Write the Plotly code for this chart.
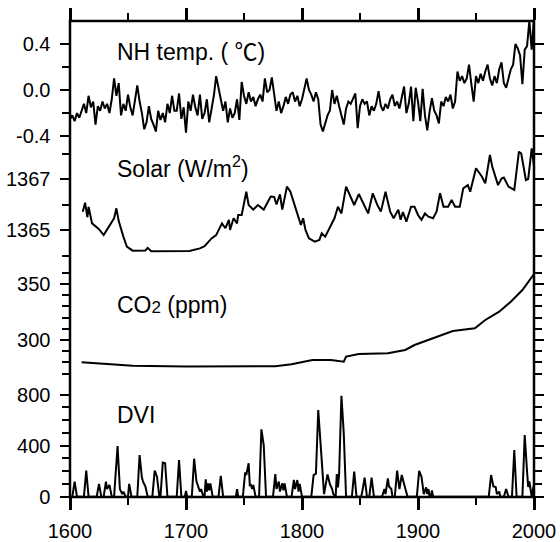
import plotly.graph_objects as go

# ---------------- data ----------------
temp_years = list(range(1600, 2001, 2))
temp_vals = [
    -0.25, -0.22, -0.27, -0.20, -0.24, -0.18,
    -0.12, -0.20, -0.05, -0.15, -0.10,
    -0.30, -0.14, -0.18, -0.10, -0.16,
    -0.12, -0.20, -0.08, 0.10, -0.05,
    0.06, -0.22, -0.12, -0.18, -0.04,
    -0.15, -0.22, -0.08, 0.04, -0.10,
    -0.20, -0.34, -0.28, -0.14, -0.25,
    -0.30, -0.36, -0.18, -0.26, -0.20,
    -0.28, -0.12, -0.20, -0.05, -0.18,
    -0.18, -0.03, -0.25, -0.15, -0.37,
    -0.10, -0.18, -0.04, -0.15, -0.22,
    -0.04, -0.25, -0.20, -0.08, -0.28,
    -0.18, -0.05, 0.12, 0.02, -0.10,
    -0.18, -0.10, -0.28, -0.16, -0.24,
    -0.20, -0.08, -0.26, 0.07, -0.05,
    -0.12, -0.02, -0.10, -0.06, -0.14,
    -0.08, -0.04, -0.10, 0.10, -0.02,
    0.00, 0.11, -0.05, -0.18, -0.10,
    -0.20, -0.14, -0.06, -0.12, -0.04,
    -0.02, -0.10, -0.05, -0.14, -0.08,
    0.00, 0.10, 0.00, -0.04, -0.10,
    -0.02, -0.08, -0.30, -0.36, -0.28,
    -0.22, -0.18, 0.00, -0.12, -0.05,
    -0.14, -0.22, -0.30, -0.16, -0.10,
    -0.12, -0.08, -0.03, -0.33, -0.14,
    -0.08, -0.12, -0.10, -0.22, -0.14,
    -0.18, -0.12, -0.01, -0.14, -0.18,
    -0.12, -0.16, -0.08, -0.04, -0.14,
    -0.10, -0.16, -0.06, 0.03, -0.20,
    -0.12, 0.03, -0.27, 0.02, -0.10,
    -0.27, 0.01, -0.22, -0.35, -0.19,
    -0.07, -0.18, -0.22, -0.29, -0.10,
    -0.14, -0.06, -0.10, -0.04, -0.16,
    -0.10, 0.16, 0.08, 0.12, 0.06,
    0.10, 0.22, 0.05, -0.10, 0.12,
    0.06, 0.14, 0.08, 0.16, 0.22,
    0.10, 0.04, 0.12, 0.06, 0.18,
    0.24, 0.06, 0.02, 0.10, 0.18,
    0.22, 0.40, 0.36, 0.30, 0.05,
    0.35, 0.38, 0.60, 0.35, 0.62,
]

solar_years = [1611, 1613, 1615, 1616, 1619, 1622, 1625, 1629, 1631, 1635, 1638, 1640,
               1642, 1646, 1649, 1654, 1665, 1667, 1670, 1703, 1712, 1716, 1722, 1726,
               1729, 1731, 1734, 1737, 1738, 1741, 1744, 1745, 1748, 1752, 1754, 1758,
               1762, 1767, 1773, 1776, 1778, 1781, 1783, 1787, 1790, 1793, 1796, 1799,
               1801, 1803, 1806, 1811, 1815, 1817, 1820, 1823, 1828, 1831, 1834, 1838,
               1841, 1845, 1849, 1853, 1857, 1861, 1865, 1868, 1872, 1876, 1879, 1883,
               1885, 1887, 1890, 1894, 1897, 1900, 1903, 1906, 1909, 1913, 1916, 1919,
               1922, 1926, 1929, 1932, 1936, 1939, 1943, 1945, 1950, 1955, 1958, 1962,
               1964, 1969, 1972, 1974, 1978, 1983, 1987, 1989, 1993, 1995, 1998, 2000]
solar_vals = [1365.72, 1366.07, 1365.50, 1365.91, 1365.26, 1365.15, 1365.03, 1364.80,
              1364.95, 1365.20, 1365.46, 1365.85, 1365.35, 1364.74, 1364.35, 1364.19,
              1364.20, 1364.30, 1364.17, 1364.18, 1364.28, 1364.37, 1364.67, 1364.80,
              1365.07, 1365.26, 1365.07, 1365.40, 1365.00, 1365.46, 1365.26, 1365.59,
              1365.59, 1366.50, 1365.98, 1365.80, 1365.98, 1365.80, 1366.31, 1366.30,
              1366.00, 1366.40, 1365.80, 1366.70, 1366.50, 1366.05, 1365.65, 1365.20,
              1365.46, 1365.00, 1364.67, 1364.54, 1364.61, 1364.87, 1364.74, 1365.00,
              1365.46, 1365.91, 1365.65, 1366.70, 1366.37, 1365.98, 1366.41, 1366.04,
              1365.65, 1366.44, 1365.98, 1365.72, 1366.50, 1365.72, 1365.46, 1365.80,
              1365.40, 1365.70, 1365.33, 1365.91, 1365.91, 1365.59, 1365.40, 1365.65,
              1365.52, 1365.46, 1365.72, 1366.44, 1365.91, 1365.91, 1366.18, 1365.91,
              1365.91, 1366.63, 1366.76, 1366.50, 1367.42, 1367.10, 1366.83, 1367.94,
              1367.49, 1366.76, 1367.02, 1367.06, 1366.70, 1366.57, 1368.07, 1368.00,
              1366.96, 1367.00, 1368.20, 1367.50]

co2_years = [1610, 1654, 1700, 1740, 1777, 1791, 1809, 1825, 1834, 1836, 1838, 1849,
             1874, 1889, 1897, 1911, 1930, 1949, 1958, 1970, 1980, 1990, 2000]
co2_vals = [280.1, 277.1, 276.3, 276.3, 276.6, 278.4, 282.1, 282.1, 281.0, 280.6, 285.2,
            287.5, 288.1, 291.1, 295.5, 300.6, 308.0, 310.4, 317.9, 325.3, 334.2, 344.6, 358.9]

dvi_years = [1600, 1602, 1604, 1606, 1612, 1614, 1616, 1623, 1625, 1627, 1629, 1631, 1632,
             1634, 1636, 1638, 1641, 1643, 1645, 1646, 1648, 1650, 1651, 1653, 1658, 1660,
             1662, 1663, 1665, 1667, 1671, 1673, 1675, 1677, 1678, 1680, 1682, 1684, 1692,
             1694, 1696, 1699, 1700, 1701, 1705, 1707, 1709, 1711, 1712, 1713, 1715, 1716,
             1717, 1718, 1719, 1720, 1721, 1723, 1728, 1730, 1732, 1743, 1744, 1745, 1749,
             1751, 1752, 1754, 1755, 1756, 1757, 1758, 1760, 1763, 1765, 1767, 1769, 1775,
             1777, 1778, 1780, 1781, 1783, 1784, 1785, 1787, 1791, 1793, 1794, 1796, 1797,
             1798, 1800, 1808, 1810, 1812, 1814, 1816, 1818, 1819, 1822, 1824, 1826, 1827,
             1829, 1830, 1831, 1832, 1834, 1836, 1838, 1843, 1845, 1847, 1851, 1852, 1854,
             1856, 1858, 1860, 1862, 1869, 1871, 1872, 1874, 1875, 1877, 1878, 1880, 1882,
             1884, 1886, 1888, 1891, 1899, 1901, 1903, 1905, 1907, 1908, 1909, 1910, 1911,
             1912, 1913, 1961, 1963, 1965, 1967, 1968, 1970, 1971, 1974, 1976, 1978, 1981,
             1983, 1985, 1990, 1992, 1994, 1995, 1996, 1998, 2000]
dvi_vals = [0, 0, 118, 0, 0, 204, 0, 0, 100, 0, 0, 118, 60,
            92, 0, 0, 398, 60, 20, 40, 0, 0, 100, 0, 0, 327,
            150, 118, 80, 0, 0, 204, 157, 0, 0, 267, 262, 0, 0,
            288, 0, 0, 46, 0, 0, 298, 120, 73, 40, 60, 0, 0,
            136, 40, 105, 50, 105, 0, 0, 163, 0, 0, 60, 0, 0,
            191, 170, 262, 90, 92, 60, 92, 0, 0, 528, 405, 0, 0,
            178, 60, 118, 40, 105, 50, 105, 0, 0, 131, 60, 131, 40,
            100, 0, 0, 170, 180, 680, 418, 80, 20, 175, 100, 60, 20,
            0, 178, 73, 180, 792, 497, 0, 0, 196, 0, 0, 40, 149,
            0, 0, 149, 0, 0, 60, 20, 144, 80, 60, 0, 0, 204,
            60, 170, 100, 0, 0, 202, 157, 20, 73, 20, 60, 0, 0,
            50, 0, 0, 170, 81, 76, 20, 40, 0, 0, 60, 0, 0,
            366, 0, 0, 484, 200, 76, 120, 0, 100]

x_ticks = [1600, 1700, 1800, 1900, 2000]
x_minor = [1650, 1750, 1850, 1950]
temp_ticks, temp_minor = [-0.4, 0.0, 0.4], [-0.2, 0.2]
solar_ticks, solar_minor = [1365, 1367], [1364, 1366, 1368]
co2_ticks, co2_minor = [300, 350], [270, 280, 290, 310, 320, 330, 340, 360]
dvi_ticks, dvi_minor = [0, 400, 800], [100, 200, 300, 500, 600, 700]

# ---------------- figure ----------------
FONT = "Liberation Sans, Arial, Helvetica, Noto Sans CJK SC, sans-serif"
W, H = 560, 542
ML, MR, MT, MB = 70, 26, 21, 45
PH = H - MT - MB          # plot height in px
BOT = H - MB              # bottom pixel row
XR = [1600, 2000]


def dom(py_top, py_bot):
    return [max(0.0, (BOT - py_bot) / PH), min(1.0, (BOT - py_top) / PH)]


fig = go.Figure()
line = dict(color="black", width=2)
# each panel gets its own x/y pair (all x axes share domain and range)
fig.add_trace(go.Scatter(x=temp_years, y=temp_vals, mode="lines", line=line,
                         xaxis="x2", yaxis="y"))
fig.add_trace(go.Scatter(x=solar_years, y=solar_vals, mode="lines", line=line,
                         xaxis="x3", yaxis="y2"))
fig.add_trace(go.Scatter(x=co2_years, y=co2_vals, mode="lines", line=line,
                         xaxis="x4", yaxis="y3"))
fig.add_trace(go.Scatter(x=dvi_years, y=dvi_vals, mode="lines", line=line,
                         xaxis="x", yaxis="y4"))


def yax(rng, domain, anchor, ticks, minor, fmt):
    return dict(range=rng, domain=domain, anchor=anchor, showline=False, showgrid=False,
                zeroline=False, ticks="outside", ticklen=9, tickwidth=2, tickcolor="black",
                mirror="ticks", tickvals=ticks,
                ticktext=[fmt.format(t) + "\u00a0" for t in ticks],
                minor=dict(tickvals=minor, ticks="outside", ticklen=7, tickwidth=2,
                           tickcolor="black"),
                tickfont=dict(family=FONT, size=20, color="black"),
                automargin=False, fixedrange=True)


def xax(anchor, side, labels):
    return dict(range=XR, domain=[0, 1], anchor=anchor, side=side, showline=False,
                showgrid=False, zeroline=False, ticks="outside", ticklen=12,
                tickwidth=2.5, tickcolor="black", tickvals=x_ticks,
                showticklabels=labels, ticklabelstandoff=4,
                minor=dict(tickvals=x_minor, ticks="outside", ticklen=7, tickwidth=2,
                           tickcolor="black"),
                tickfont=dict(family=FONT, size=20, color="black"),
                automargin=False, fixedrange=True)


hidden_x = dict(range=XR, domain=[0, 1], visible=False, fixedrange=True)

temp_rng = [-0.6, 0.598]
solar_rng = [1363.5, 1368.5]
co2_rng = [265, 365]
dvi_rng = [-2.4, 900]

fig.update_layout(
    template="none",
    width=W, height=H, margin=dict(l=ML, r=MR, t=MT, b=MB),
    plot_bgcolor="rgba(0,0,0,0)", paper_bgcolor="white", showlegend=False,
    xaxis=xax("y4", "bottom", True),
    xaxis2=xax("y", "top", False),
    xaxis3=dict(hidden_x, anchor="y2"),
    xaxis4=dict(hidden_x, anchor="y3"),
    yaxis=yax(temp_rng, dom(90 - 0.598 * 115.4, 90 + 0.6 * 115.4), "x2",
              temp_ticks, temp_minor, "{:.1f}"),
    yaxis2=yax(solar_rng, dom(179 - 1.5 * 25.5, 179 + 3.5 * 25.5), "x3",
               solar_ticks, solar_minor, "{:d}"),
    yaxis3=yax(co2_rng, dom(284 - 15 * 1.12, 284 + 85 * 1.12), "x4",
               co2_ticks, co2_minor, "{:d}"),
    yaxis4=yax(dvi_rng, dom(496.7 - 900 * 0.1275, 496.7 + 2.4 * 0.1275), "x",
               dvi_ticks, dvi_minor, "{:d}"),
    shapes=[dict(type="rect", xref="paper", yref="paper", x0=0, x1=1, y0=0, y1=1,
                 line=dict(color="black", width=2.5), layer="above")],
)

lab_font = dict(family=FONT, size=23, color="black")
labels = [
    ("NH temp. ( <span style=\"font-family:Noto Sans CJK JP\">℃</span>)", 50),
    ("Solar (W/m<sup>2</sup>)", 167),
    ("CO<span style=\"font-size:17px\">2</span> (ppm)", 305),
    ("DVI", 415),
]
for txt, py in labels:
    fig.add_annotation(text=txt, xref="paper", yref="paper", x=(115 - ML) / (W - ML - MR),
                       y=(BOT - py) / PH, xanchor="left", yanchor="middle",
                       showarrow=False, font=lab_font)

fig.write_html("out.html", config={"displayModeBar": False},
               post_script="document.body.style.margin='0px';")
